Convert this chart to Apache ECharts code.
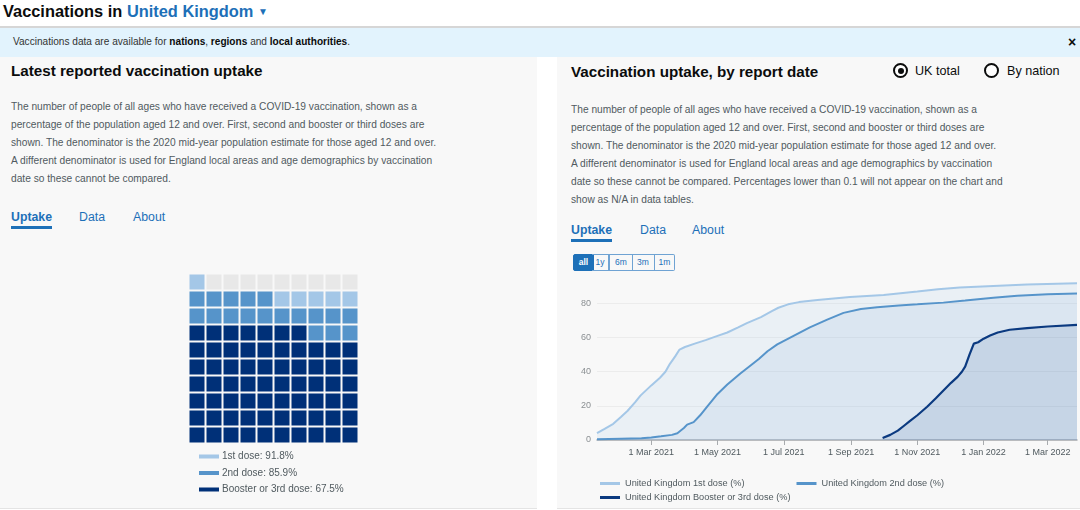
<!DOCTYPE html>
<html><head><meta charset="utf-8">
<script src="https://cdn.jsdelivr.net/npm/echarts@6/dist/echarts.min.js"></script>
<style>
html,body{margin:0;padding:0;}
body{width:1080px;height:510px;overflow:hidden;background:#fff;font-family:"Liberation Sans",Arial,sans-serif;position:relative;color:#0b0c0c;}
.abs{position:absolute;white-space:nowrap;}
.panel{position:absolute;top:57px;height:451px;background:#f8f8f8;border-bottom:1px solid #e4e4e4;}
.title{font-size:15.2px;font-weight:bold;color:#0b0c0c;line-height:20px;}
.para{font-size:10.2px;color:#505a5f;}
.tab{font-size:12.3px;color:#1d70b8;line-height:16px;}
.btn{position:absolute;top:254px;height:15px;line-height:15px;font-size:8.5px;text-align:center;color:#1d70b8;border:1px solid #6fa3d3;box-sizing:content-box;}
.radio{position:absolute;width:11px;height:11px;border:2px solid #0b0c0c;border-radius:50%;background:#fff;}
</style></head>
<body>
<div class="abs" style="left:3px;top:0;line-height:22px;font-size:16.4px;font-weight:bold;">Vaccinations in <span style="color:#1d70b8">United Kingdom</span> <span style="color:#1d70b8;font-size:10px;position:relative;top:-2px;">&#9660;</span></div>
<div class="abs" style="left:0;top:26px;width:1080px;height:2px;background:#d6d6d6;"></div>
<div class="abs" style="left:0;top:28px;width:1080px;height:29px;background:#e2f3fd;"></div>
<div class="abs" style="left:13px;top:35px;line-height:14px;font-size:10.1px;color:#333;">Vaccinations data are available for <b style="color:#0b0c0c">nations</b>, <b style="color:#0b0c0c">regions</b> and <b style="color:#0b0c0c">local authorities</b>.</div>
<div class="abs" style="left:1068px;top:34px;line-height:16px;font-size:14px;font-weight:bold;color:#0b0c0c;">&#215;</div>

<div class="panel" style="left:0;width:537px;"></div>
<div class="panel" style="left:557px;width:523px;"></div>

<div class="abs title" style="left:11px;top:61px;">Latest reported vaccination uptake</div>
<div class="abs para" style="left:11px;top:98px;line-height:18px;">The number of people of all ages who have received a COVID-19 vaccination, shown as a<br>percentage of the population aged 12 and over. First, second and booster or third doses are<br>shown. The denominator is the 2020 mid-year population estimate for those aged 12 and over.<br>A different denominator is used for England local areas and age demographics by vaccination<br>date so these cannot be compared.</div>
<div class="abs tab" style="left:11px;top:209px;font-weight:bold;">Uptake</div>
<div class="abs tab" style="left:79px;top:209px;">Data</div>
<div class="abs tab" style="left:133px;top:209px;">About</div>
<div class="abs" style="left:11px;top:226px;width:41px;height:3px;background:#1d70b8;"></div>

<div class="abs title" style="left:571px;top:62px;">Vaccination uptake, by report date</div>
<div class="radio" style="left:893px;top:63px;"><div style="position:absolute;left:2.5px;top:2.5px;width:6px;height:6px;border-radius:50%;background:#0b0c0c;"></div></div>
<div class="abs" style="left:915px;top:63px;line-height:16px;font-size:12.6px;">UK total</div>
<div class="radio" style="left:984px;top:63px;"></div>
<div class="abs" style="left:1007px;top:63px;line-height:16px;font-size:12.6px;">By nation</div>
<div class="abs para" style="left:571px;top:101px;line-height:17.9px;">The number of people of all ages who have received a COVID-19 vaccination, shown as a<br>percentage of the population aged 12 and over. First, second and booster or third doses are<br>shown. The denominator is the 2020 mid-year population estimate for those aged 12 and over.<br>A different denominator is used for England local areas and age demographics by vaccination<br>date so these cannot be compared. Percentages lower than 0.1 will not appear on the chart and<br>show as N/A in data tables.</div>
<div class="abs tab" style="left:571px;top:222px;font-weight:bold;">Uptake</div>
<div class="abs tab" style="left:640px;top:222px;">Data</div>
<div class="abs tab" style="left:692px;top:222px;">About</div>
<div class="abs" style="left:571px;top:239px;width:41px;height:3px;background:#1d70b8;"></div>

<div class="btn" style="left:573px;width:19px;background:#1d70b8;color:#fff;border-color:#1d70b8;border-radius:2px 0 0 2px;font-weight:bold;">all</div>
<div class="btn" style="left:592px;width:16px;border-left:none;">1y</div>
<div class="btn" style="left:609px;width:22px;">6m</div>
<div class="btn" style="left:632px;width:22px;border-left:none;">3m</div>
<div class="btn" style="left:655px;width:19px;border-left:none;border-radius:0 2px 2px 0;">1m</div>

<div id="chart" style="position:absolute;left:0;top:0;width:1080px;height:510px;"></div>
<script>
// ---- Waffle (latest uptake) ----
const waffleLabels = ['1st dose', '2nd dose', 'Booster or 3rd dose'];
const waffleValues = [91.8, 85.9, 67.5];
const waffleColors = ['#a4c7e7', '#5694ca', '#003078'];

// ---- Uptake by report date ----
const seriesNames = ['United Kingdom 1st dose (%)', 'United Kingdom 2nd dose (%)', 'United Kingdom Booster or 3rd dose (%)'];
const dose1Dates = ['2021-01-10','2021-01-17','2021-01-25','2021-02-01','2021-02-07','2021-02-14','2021-02-19','2021-03-01','2021-03-09','2021-03-14','2021-03-18','2021-03-23','2021-03-27','2021-04-01','2021-04-10','2021-04-20','2021-05-01','2021-05-10','2021-05-20','2021-05-28','2021-06-10','2021-06-20','2021-06-26','2021-07-05','2021-07-15','2021-08-01','2021-08-31','2021-10-01','2021-11-01','2021-11-20','2021-12-10','2022-01-10','2022-02-10','2022-03-28'];
const dose1Values = [4.0,6.5,9.5,13.5,17,22,26,32,36.5,40,44.5,49,53,54.5,56.5,58.5,61,63,66,68.5,72,75.5,77.5,79.5,80.8,82,83.8,85,87,88.3,89.3,90.3,91.1,91.8];
const dose2Dates = ['2021-01-10','2021-02-01','2021-02-20','2021-03-01','2021-03-10','2021-03-20','2021-03-25','2021-03-31','2021-04-03','2021-04-09','2021-04-15','2021-04-22','2021-05-01','2021-05-10','2021-05-22','2021-06-01','2021-06-08','2021-06-16','2021-06-25','2021-07-10','2021-07-25','2021-08-10','2021-08-25','2021-09-10','2021-09-25','2021-10-15','2021-11-01','2021-11-25','2021-12-15','2022-01-10','2022-02-01','2022-03-01','2022-03-28'];
const dose2Values = [0.5,0.8,1.0,1.5,2.2,3.0,4.0,7,9,10.5,14.5,20,27,32.5,39,44,47.5,52,56,61,66,70.5,74.5,76.8,77.8,78.8,79.5,80.5,81.7,83.3,84.5,85.4,85.9];
const dose3Dates = ['2021-09-30','2021-10-07','2021-10-14','2021-10-20','2021-10-25','2021-11-01','2021-11-10','2021-11-18','2021-11-25','2021-12-02','2021-12-08','2021-12-12','2021-12-15','2021-12-19','2021-12-23','2021-12-27','2022-01-01','2022-01-07','2022-01-14','2022-01-25','2022-02-10','2022-03-01','2022-03-28'];
const dose3Values = [1.2,3,5.5,8.5,11,14.5,19.5,24.5,29,33.5,37,40,43,50,56.5,57.3,59.4,61.2,63,64.6,65.6,66.5,67.5];
const lineColors = ['#a4c7e7', '#5694ca', '#0b3a80'];
const areaOpacity = [0.16, 0.1, 0.1];
const xTickDates = ['2021-03-01','2021-05-01','2021-07-01','2021-09-01','2021-11-01','2022-01-01','2022-03-01'];
const xRange = ['2021-01-10', '2022-03-28'];
const yTicks = [0, 20, 40, 60, 80];
const yMax = 92;

const MONTHS = ['Jan','Feb','Mar','Apr','May','Jun','Jul','Aug','Sep','Oct','Nov','Dec'];
function ts(s) { const p = s.split('-').map(Number); return new Date(p[0], p[1] - 1, p[2]).getTime(); }
function fmt(v) { const d = new Date(v); return d.getDate() + ' ' + MONTHS[d.getMonth()] + ' ' + d.getFullYear(); }

// waffle cells, filled from bottom-left, row by row upwards
const counts = waffleValues.map(Math.floor);
const cells = [[], [], [], []];
for (let i = 0; i < 100; i++) {
  const c = [i % 10, Math.floor(i / 10)];
  if (i < counts[2]) cells[2].push(c);
  else if (i < counts[1]) cells[1].push(c);
  else if (i < counts[0]) cells[0].push(c);
  else cells[3].push(c);
}
const waffleNames = waffleLabels.map((l, k) => l + ': ' + waffleValues[k] + '%');
const idx = Array.from({length: 10}, (_, i) => String(i));

const series = [];
[3, 0, 1, 2].forEach(k => {
  series.push({
    type: 'scatter', name: k === 3 ? 'Remaining' : waffleNames[k],
    xAxisIndex: 0, yAxisIndex: 0, symbol: 'rect', symbolSize: [15, 15],
    itemStyle: { color: k === 3 ? '#e8e8e8' : waffleColors[k], opacity: 1 },
    data: cells[k], silent: true
  });
});
const lineData = [[dose1Dates, dose1Values], [dose2Dates, dose2Values], [dose3Dates, dose3Values]];
lineData.forEach((ld, k) => {
  series.push({
    type: 'line', name: seriesNames[k], xAxisIndex: 1, yAxisIndex: 1,
    showSymbol: false, symbol: 'none',
    lineStyle: { color: lineColors[k], width: k === 2 ? 2.2 : 2 },
    itemStyle: { color: lineColors[k] },
    areaStyle: { color: lineColors[k], opacity: areaOpacity[k] },
    data: ld[0].map((d, i) => [ts(d), ld[1][i]]),
    z: 2 + k
  });
});

const chart = echarts.init(document.getElementById('chart'), null, { renderer: 'canvas' });
const xTickTs = xTickDates.map(ts);
chart.setOption({
  animation: false,
  backgroundColor: 'transparent',
  textStyle: { fontFamily: 'Liberation Sans, Arial, sans-serif' },
  grid: [
    { left: 188.5, top: 273.5, width: 170, height: 170 },
    { left: 597, right: 3, top: 283, bottom: 70 }
  ],
  xAxis: [
    { type: 'category', gridIndex: 0, data: idx, show: false },
    { type: 'value', gridIndex: 1, min: ts(xRange[0]), max: ts(xRange[1]),
      axisLine: { lineStyle: { color: '#a8abae', width: 1.5 } },
      axisTick: { show: true, length: 5, lineStyle: { color: '#a8abae' }, customValues: xTickTs },
      axisLabel: { customValues: xTickTs, formatter: fmt, fontSize: 9, color: '#505a5f', margin: 8 },
      splitLine: { show: false } }
  ],
  yAxis: [
    { type: 'category', gridIndex: 0, data: idx, show: false },
    { type: 'value', gridIndex: 1, min: 0, max: yMax, interval: yTicks[1] - yTicks[0],
      axisLine: { show: false }, axisTick: { show: false },
      axisLabel: { fontSize: 9, color: '#8a8f92', margin: 6, showMaxLabel: false },
      splitLine: { show: true, showMaxLine: false, lineStyle: { color: '#ececec', width: 1 } } }
  ],
  legend: [
    { data: waffleNames, orient: 'vertical', left: 199, top: 451.5, padding: 0, itemWidth: 20, itemHeight: 4, itemGap: 6.5,
      icon: 'rect', selectedMode: false, textStyle: { fontSize: 10, color: '#505a5f', padding: [0, 0, 0, -2] } },
    { data: seriesNames.slice(0, 2), orient: 'horizontal', left: 600, top: 479, padding: 0, itemWidth: 20, itemHeight: 3, itemGap: 52,
      icon: 'rect', selectedMode: false, textStyle: { fontSize: 9.2, color: '#505a5f' } },
    { data: seriesNames.slice(2), orient: 'horizontal', left: 600, top: 493, padding: 0, itemWidth: 20, itemHeight: 3,
      icon: 'rect', selectedMode: false, textStyle: { fontSize: 9.2, color: '#505a5f' } }
  ],
  series: series
});
</script>
</body></html>
